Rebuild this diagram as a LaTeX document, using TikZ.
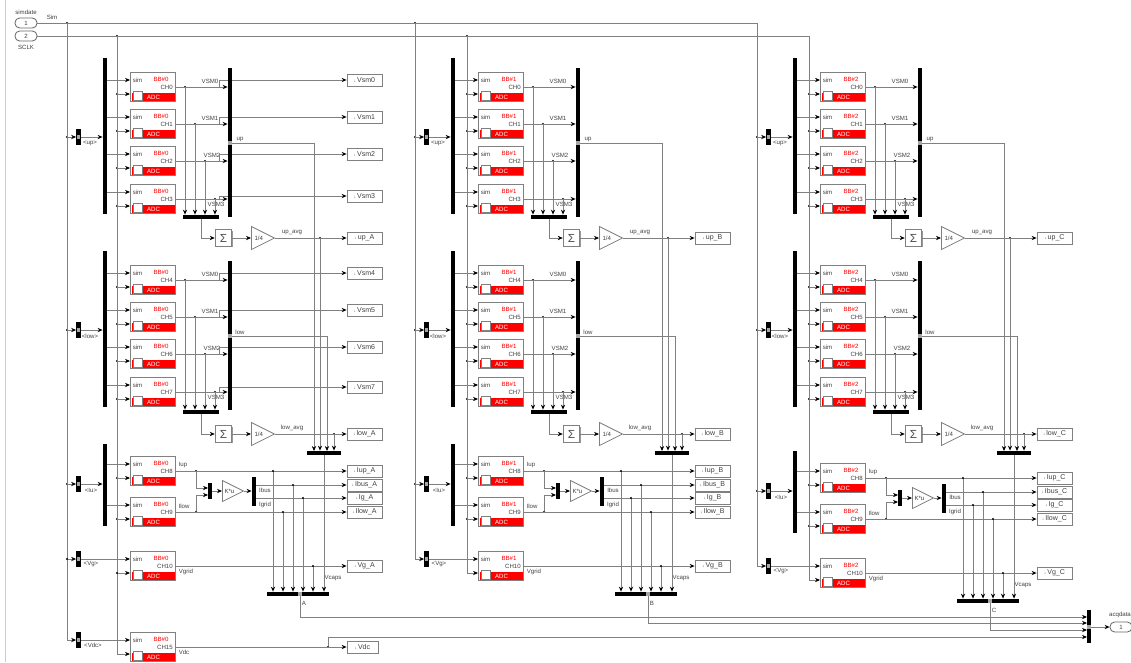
\documentclass[tikz,border=0pt]{standalone}
\usepackage{fontspec}
\setmainfont{Liberation Sans}
\usetikzlibrary{arrows.meta,shapes.geometric,shadows}

\tikzset{
 wire/.style={draw=black!50, line width=0.75pt},
 sig/.style={wire, -{Stealth[black,length=1.5mm,width=1.3mm]}},
 lbl/.style={inner sep=0pt, text=black!75, font=\fontsize{5.2}{6}\selectfont},
 dot/.style={circle, fill=black, inner sep=0pt, minimum size=.07cm},
 blocksh/.style={drop shadow={shadow xshift=.8pt, shadow yshift=-.8pt, fill=black!40, opacity=1}},
 adcbox/.style={draw=black!50, line width=.7pt, fill=white, blocksh, inner sep=0pt, minimum width=1.35cm, minimum height=.87cm},
 adcred/.style={fill=red, text=white, inner sep=0pt, minimum width=1.31cm, minimum height=.25cm, font=\fontsize{5.2}{6}\selectfont},
 folder/.style={draw=black!50, fill=white, inner sep=0pt, minimum size=.27cm},
 goto/.style={draw=black!50, line width=.7pt, fill=white, blocksh, inner sep=0pt, minimum width=1.05cm, minimum height=.36cm, text=black!75, font=\fontsize{6}{7}\selectfont},
 sumbox/.style={draw=black!50, line width=.7pt, fill=white, blocksh, inner sep=0pt, minimum size=.5cm, text=black!70, font=\fontsize{10}{10}\selectfont},
 gain/.style={draw=black!50, line width=.7pt, fill=white, isosceles triangle, isosceles triangle stretches, inner sep=0pt, anchor=lower side, minimum width=.69cm, minimum height=.69cm, text=black!75, font=\fontsize{5.2}{6}\selectfont},
 vbar/.style={fill=black, inner sep=0pt, minimum width=.13cm},
 hbar/.style={fill=black, inner sep=0pt, minimum height=.13cm},
 port/.style={fill=black!35, inner sep=0pt, minimum size=.11cm},
 inport/.style={draw=black!60, line width=.7pt, fill=white, rounded corners=.14cm, inner sep=0pt, minimum width=.66cm, minimum height=.3cm, text=black!75, font=\fontsize{5.2}{6}\selectfont}
}

\newcommand{\togo}{{\fontsize{3.5}{4}\selectfont ↓}\,}

% one acquisition block: name, y of its output, board number, channel
\newcommand{\adcblock}[4]{
 \node [adcbox] (#1) at (152.5,#2) {};
 \node [adcred] (#1red) at (153.5,#2+10) {ADC};
 \node [folder] (#1dir) at (137.5,#2+8.5) {};
 \node [lbl] (#1simlbl) at (137.5,#2-7) {sim};
 \node [lbl, text=red] (#1bb) at (161,#2-8) {BB\##3};
 \node [lbl, anchor=east] (#1ch) at (173,#2) {#4};
 \coordinate (#1sim) at (130,#2-7);
 \coordinate (#1adc) at (130,#2+7);
}

% a block with its two feeds
\newcommand{\feeds}[3]{
 \draw [sig] (#2.east |- #1sim) -- (#1sim);
 \node [dot] (#1clkj) at (#3 |- #1adc) {};
 \draw [sig] (#1clkj) -- (#1adc);
}

% whole column: prefix, x shift, board, y shift of lower part, x of Ig and Ilow drops
\newcommand{\phasecol}[6]{
 \begin{scope}[shift={(#2,0)}]
 \node [hbar, minimum width=1.02cm] (#1caps) at (324,453) {};
 \coordinate (#1upcap) at (314,451);
 \coordinate (#1lowcap) at (327,451);
 \foreach \g/\dy/\first/\lab/\hy/\sy/\jx in {up/0/0/{<up>}/217/238/320, low/193/4/{<low>}/219/241/334} {
 \begin{scope}[shift={(0,\dy)}]
 \node [vbar, minimum height=4.68cm] (#1\g in) at (105,136) {};
 \node [vbar, minimum height=4.47cm] (#1\g out) at (230,142.5) {};
 \node [hbar, minimum width=1.08cm] (#1\g hbar) at (201,\hy) {};
 \node [vbar, minimum height=.5cm] (#1\g demux) at (78.5,137) {};
 \node [port] (#1\g demuxp) at (78.5,137) {};
 \node [dot] (#1\g tap) at (#1sim |- #1\g demux) {};
 \node [lbl] (#1\g lab) at (90,143) {\lab};
 \node [port] (#1\g port) at (230,143) {};
 \node [lbl] (#1\g portlbl) at (240,139) {\g};
 \draw [sig] (#1\g tap) -- (#1\g demux.west);
 \draw [sig] (#1\g demux.east) -- (#1\g in.west |- #1\g demux);
 \draw [sig] (#1\g port) -| (#1\g cap);
 \foreach \r/\y/\lx/\ly in {0/87/210/81, 1/124/210/118, 2/161/212/155, 3/199/216/204} {
 \pgfmathtruncatemacro\ch{\first+\r}
 \pgfmathsetmacro\dx{185+10*\r}
 \adcblock{#1ch\ch}{\y}{#3}{CH\ch}
 \feeds{#1ch\ch}{#1\g in}{#1clk}
 \node [dot] (#1ch\ch j) at (\dx,\y) {};
 \node [lbl] (#1ch\ch vsm) at (\lx,\ly) {VSM\r};
 \draw [sig] (#1ch\ch.east) -- (#1\g out.west |- #1ch\ch.east);
 \draw [sig] (#1ch\ch j) -- (#1ch\ch j |- #1\g hbar.north);
 }
 \node [sumbox] (#1\g sum) at (223.5,\sy) {Σ};
 \node [gain] (#1\g gain) at (251,\sy) {1/4};
 \node [lbl] (#1\g avg) at (292,\sy-6) {\g\_avg};
 \node [goto] (#1\g goto) at (364.5,\sy) {\togo\g\_#1};
 \node [dot] (#1\g j) at (\jx,\sy) {};
 \draw [sig] (#1\g hbar.south) |- (#1\g sum.west);
 \draw [sig] (#1\g sum.east) -- (#1\g gain.lower side);
 \draw [sig] (#1\g gain.apex) -- (#1\g goto.west);
 \draw [sig] (#1\g j) -- (#1\g j |- #1caps.north);
 \end{scope}
 }
 \begin{scope}[shift={(0,#4)}]
 \node [vbar, minimum height=2.46cm] (#1Iin) at (105,485) {};
 \node [vbar, minimum height=.5cm] (#1Idemux) at (78.5,484) {};
 \node [port] (#1Idemuxp) at (78.5,484) {};
 \node [dot] (#1Itap) at (#1sim |- #1Idemux) {};
 \node [lbl] (#1Ilab) at (91,490) {<Iu>};
 \draw [sig] (#1Itap) -- (#1Idemux.west);
 \draw [sig] (#1Idemux.east) -- (#1Iin.west |- #1Idemux);
 \adcblock{#1ch8}{471}{#3}{CH8}
 \adcblock{#1ch9}{512}{#3}{CH9}
 \feeds{#1ch8}{#1Iin}{#1clk}
 \feeds{#1ch9}{#1Iin}{#1clk}
 \node [lbl] (#1Iuplbl) at (183,465) {Iup};
 \node [lbl] (#1Ilowlbl) at (184,506) {Ilow};
 \node [goto] (#1Iupgo) at (364.5,471) {\togo Iup\_#1};
 \node [goto] (#1Ibusgo) at (364.5,485) {\togo Ibus\_#1};
 \node [goto] (#1Iggo) at (364.5,498) {\togo Ig\_#1};
 \node [goto] (#1Ilowgo) at (364.5,512) {\togo Ilow\_#1};
 \node [dot] (#1Iupj) at (196,471) {};
 \node [dot] (#1Ilowj) at (196,512) {};
 \node [vbar, minimum height=.48cm] (#1mux) at (210,491) {};
 \coordinate (#1muxa) at (208,488);
 \coordinate (#1muxb) at (208,495);
 \node [gain, minimum width=.63cm, minimum height=.63cm] (#1k) at (222,491) {K*u};
 \node [vbar, minimum height=.87cm] (#1dmx) at (254,491) {};
 \node [lbl] (#1Ibuslbl) at (265,490) {Ibus};
 \node [lbl] (#1Igridlbl) at (265,505) {Igrid};
 \draw [sig] (#1ch8.east) -- (#1Iupgo.west);
 \draw [sig] (#1ch9.east) -- (#1Ilowgo.west);
 \draw [sig] (#1Iupj) |- (#1muxa);
 \draw [sig] (#1Ilowj) |- (#1muxb);
 \draw [sig] (#1mux.east) -- (#1k.lower side);
 \draw [sig] (#1k.apex) -- (#1dmx.west);
 \draw [sig] (#1dmx.east |- #1Ibusgo) -- (#1Ibusgo.west);
 \draw [sig] (#1dmx.east |- #1Iggo) -- (#1Iggo.west);
 \node [vbar, minimum height=.5cm] (#1Vgdemux) at (78.5,559) {};
 \node [port] (#1Vgdemuxp) at (78.5,559) {};
 \node [lbl] (#1Vglab) at (91,564) {<Vg>};
 \adcblock{#1ch10}{566}{#3}{CH10}
 \node [lbl] (#1Vgridlbl) at (186,572) {Vgrid};
 \node [goto] (#1Vggo) at (364.5,566) {\togo Vg\_#1};
 \draw [sig] (#1sim) |- (#1Vgdemux.west);
 \draw [sig] (#1Vgdemux.east) -- (#1ch10sim);
 \draw [sig] (#1clk) |- (#1ch10adc);
 \draw [sig] (#1ch10.east) -- (#1Vggo.west);
 \node [hbar, minimum width=1.86cm] (#1big) at (298,594) {};
 \node [port] (#1bigp) at (300,594) {};
 \node [lbl] (#1biglbl) at (304,603) {#1};
 \node [lbl] (#1Vcaps) at (333,578) {Vcaps};
 \node [dot] (#1jIup) at (273,471) {};
 \node [dot] (#1jIbus) at (293,485) {};
 \node [dot] (#1jIg) at (#5,498) {};
 \node [dot] (#1jIlow) at (#6,512) {};
 \node [dot] (#1jVg) at (313,566) {};
 \foreach \j in {jIup,jIbus,jIg,jIlow,jVg} {
 \draw [sig] (#1\j) -- (#1\j |- #1big.north);
 }
 \draw [sig] (#1caps.south) -- (#1caps.south |- #1big.north);
 \draw [sig] (#1bigp) |- (acq#1);
 \end{scope}
 \end{scope}
}

\begin{document}
\begin{tikzpicture}[x=.03cm, y=-.03cm]
 \useasboundingbox (0,0) rectangle (1131,662);
 \draw [black!20] (5,0) -- (5,662);

 \node [inport] (simport) at (26,23) {1};
 \node [inport] (clkport) at (26,36) {2};
 \node [lbl] (simdate) at (26,12) {simdate};
 \node [lbl] (simlbl) at (52,17) {Sim};
 \node [lbl] (clklbl) at (26,47) {SCLK};
 \node [dot] (Asim) at (67,23) {};
 \node [dot] (Bsim) at (415,23) {};
 \coordinate (Csim) at (757,23);
 \node [dot] (Aclk) at (117,36) {};
 \node [dot] (Bclk) at (467,36) {};
 \coordinate (Cclk) at (809,36);
 \draw [wire] (simport.east) -- (Csim);
 \draw [wire] (clkport.east) -- (Cclk);

 \node [vbar, minimum height=.99cm] (acq) at (1089,626.5) {};
 \node [port] (acqp) at (1089,627) {};
 \coordinate (acqA) at (1087,617);
 \coordinate (acqB) at (1087,623);
 \coordinate (acqC) at (1087,630);
 \coordinate (acqD) at (1087,637);
 \node [inport] (acqport) at (1121,627) {1};
 \node [lbl] (acqlbl) at (1120,615) {acqdata};
 \draw [sig] (acq.east |- acqport) -- (acqport.west);

 \phasecol{A}{0}{0}{0}{303}{283}
 \phasecol{B}{348}{1}{0}{283}{303}
 \phasecol{C}{690}{2}{7}{283}{303}

 \foreach \n/\y/\s/\g in {0/80/87/up,1/117/124/up,2/154/161/up,3/196/199/up,4/273/280/low,5/310/317/low,6/347/354/low,7/387/392/low} {
 \node [goto] (vsm\n) at (364.5,\y) {\togo Vsm\n};
 \coordinate (vsm\n s) at (219,\s);
 \draw [wire] (vsm\n s) |- (A\g out.west |- vsm\n);
 \draw [sig] (A\g out.east |- vsm\n) -- (vsm\n.west);
 }

 \node [dot] (AVgtap) at (Asim |- AVgdemux) {};
 \node [dot] (Avgclk) at (Aclk |- Ach10adc) {};
 \node [vbar, minimum height=.5cm] (AVdcdemux) at (78.5,640) {};
 \node [port] (AVdcdemuxp) at (78.5,640) {};
 \node [lbl] (AVdclab) at (93,645) {<Vdc>};
 \adcblock{Ach15}{647}{0}{CH15}
 \node [lbl] (AVdclbl) at (184,652) {Vdc};
 \node [goto, minimum width=.93cm] (Vdcgo) at (362.5,647) {\togo Vdc};
 \node [dot] (Vdcj) at (328,647) {};
 \draw [sig] (AVgtap) |- (AVdcdemux.west);
 \draw [sig] (AVdcdemux.east) -- (Ach15sim);
 \draw [sig] (Avgclk) |- (Ach15adc);
 \draw [sig] (Ach15.east) -- (Vdcgo.west);
 \draw [sig] (Vdcj) |- (acqD);
\end{tikzpicture}
\end{document}
